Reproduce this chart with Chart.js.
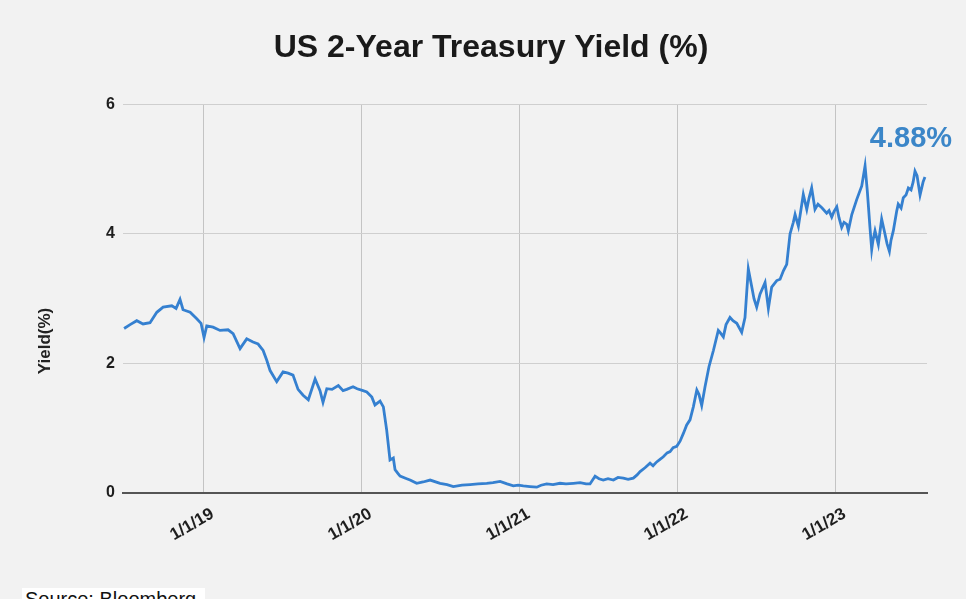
<!DOCTYPE html>
<html>
<head>
<meta charset="utf-8">
<script src="https://cdn.jsdelivr.net/npm/chart.js@4.4.1/dist/chart.umd.min.js"></script>
<style>
  html, body { margin: 0; padding: 0; background: #f2f2f2; overflow: hidden; }
  #wrap { position: relative; width: 966px; height: 599px; }
  #source {
    position: absolute; left: 22px; top: 588px; width: 180px; padding-left: 3px;
    background: #fff; color: #111; line-height: 24px;
    font: 20px "Liberation Sans", Arial, sans-serif;
  }
</style>
</head>
<body>
<div id="wrap">
  <canvas id="yieldChart" width="966" height="599"></canvas>
  <div id="source">Source: Bloomberg</div>
</div>
<script>
const chartTitle = "US 2-Year Treasury Yield (%)";
const yAxisTitle = "Yield(%)";
const lastLabel = "4.88%";
const yearTicks = [2019, 2020, 2021, 2022, 2023];
const yTicks = [0, 2, 4, 6];

// dates as fractional years
const dates = [
  2018.497, 2018.535, 2018.577, 2018.617, 2018.661, 2018.704, 2018.744, 2018.799, 2018.826, 2018.851,
  2018.870, 2018.915, 2018.957, 2018.984, 2019.003, 2019.020, 2019.060, 2019.104, 2019.155, 2019.187,
  2019.231, 2019.273, 2019.313, 2019.345, 2019.377, 2019.400, 2019.421, 2019.463, 2019.503, 2019.535,
  2019.566, 2019.598, 2019.630, 2019.663, 2019.706, 2019.737, 2019.756, 2019.780, 2019.813, 2019.853,
  2019.883, 2019.906, 2019.946, 2019.972, 2020.009, 2020.033, 2020.065, 2020.085, 2020.117, 2020.138,
  2020.159, 2020.180, 2020.201, 2020.212, 2020.231, 2020.244, 2020.286, 2020.307, 2020.349, 2020.389,
  2020.434, 2020.497, 2020.541, 2020.581, 2020.636, 2020.687, 2020.737, 2020.792, 2020.832, 2020.877,
  2020.921, 2020.961, 2020.991, 2021.024, 2021.066, 2021.109, 2021.136, 2021.172, 2021.212, 2021.256,
  2021.294, 2021.341, 2021.383, 2021.421, 2021.446, 2021.478, 2021.503, 2021.530, 2021.560, 2021.594,
  2021.623, 2021.657, 2021.687, 2021.720, 2021.744, 2021.763, 2021.794, 2021.826, 2021.845, 2021.868,
  2021.889, 2021.910, 2021.934, 2021.953, 2021.972, 2021.995, 2022.016, 2022.037, 2022.058, 2022.079,
  2022.100, 2022.122, 2022.136, 2022.153, 2022.174, 2022.199, 2022.227, 2022.258, 2022.269, 2022.290,
  2022.307, 2022.332, 2022.351, 2022.375, 2022.406, 2022.427, 2022.448, 2022.470, 2022.484, 2022.501,
  2022.522, 2022.554, 2022.575, 2022.596, 2022.628, 2022.649, 2022.670, 2022.691, 2022.712, 2022.733,
  2022.744, 2022.765, 2022.786, 2022.796, 2022.818, 2022.832, 2022.849, 2022.870, 2022.889, 2022.915,
  2022.944, 2022.959, 2022.976, 2022.991, 2023.008, 2023.022, 2023.039, 2023.054, 2023.071, 2023.081,
  2023.103, 2023.134, 2023.166, 2023.187, 2023.201, 2023.218, 2023.229, 2023.237, 2023.250, 2023.271,
  2023.292, 2023.313, 2023.326, 2023.341, 2023.351, 2023.366, 2023.387, 2023.397, 2023.415, 2023.429,
  2023.446, 2023.461, 2023.478, 2023.491, 2023.503, 2023.516, 2023.535, 2023.554, 2023.566
];
const yields = [
  2.54, 2.60, 2.66, 2.61, 2.63, 2.79, 2.87, 2.89, 2.85, 2.99,
  2.83, 2.79, 2.69, 2.62, 2.40, 2.58, 2.56, 2.51, 2.52, 2.46,
  2.23, 2.38, 2.33, 2.30, 2.20, 2.05, 1.89, 1.72, 1.87, 1.85,
  1.82, 1.60, 1.51, 1.44, 1.76, 1.58, 1.40, 1.61, 1.60, 1.66,
  1.58, 1.60, 1.64, 1.61, 1.58, 1.56, 1.48, 1.36, 1.42, 1.33,
  0.97, 0.51, 0.54, 0.36, 0.30, 0.26, 0.22, 0.20, 0.15, 0.17,
  0.20, 0.15, 0.13, 0.10, 0.12, 0.13, 0.14, 0.15, 0.16, 0.18,
  0.14, 0.11, 0.12, 0.11, 0.10, 0.09, 0.12, 0.14, 0.13, 0.15,
  0.14, 0.15, 0.16, 0.14, 0.14, 0.26, 0.22, 0.20, 0.22, 0.20,
  0.24, 0.23, 0.21, 0.23, 0.28, 0.33, 0.39, 0.46, 0.42, 0.48,
  0.52, 0.56, 0.62, 0.64, 0.70, 0.72, 0.80, 0.92, 1.05, 1.13,
  1.33, 1.59, 1.52, 1.35, 1.64, 1.95, 2.20, 2.51, 2.48, 2.41,
  2.60, 2.71, 2.66, 2.62, 2.48, 2.71, 3.46, 3.18, 3.00, 2.87,
  3.07, 3.25, 2.85, 3.18, 3.28, 3.30, 3.43, 3.53, 4.00, 4.18,
  4.30, 4.12, 4.45, 4.61, 4.38, 4.55, 4.71, 4.38, 4.46, 4.40,
  4.32, 4.36, 4.26, 4.35, 4.42, 4.25, 4.10, 4.18, 4.15, 4.05,
  4.30, 4.53, 4.74, 5.05, 4.67, 4.10, 3.76, 3.90, 4.05, 3.84,
  4.23, 4.00, 3.85, 3.73, 3.90, 4.05, 4.35, 4.46, 4.40, 4.56,
  4.60, 4.71, 4.68, 4.80, 4.97, 4.90, 4.60, 4.80, 4.88
];

const fontFamily = "'Liberation Sans', Arial, sans-serif";
Chart.defaults.font.family = fontFamily;

// axis title at the left and the last-value label over the line end
const extraText = {
  id: "extraText",
  afterDatasetsDraw(chart) {
    const { ctx, scales: { x, y } } = chart;
    const n = dates.length - 1;
    ctx.save();
    ctx.fillStyle = "#3b86c8";
    ctx.font = "bold 29px " + fontFamily;
    ctx.textAlign = "center";
    ctx.textBaseline = "middle";
    ctx.fillText(lastLabel, x.getPixelForValue(dates[n]) - 14, y.getPixelForValue(yields[n]) - 38);

    ctx.translate(45, 341);
    ctx.rotate(-Math.PI / 2);
    ctx.fillStyle = "#222";
    ctx.font = "bold 17px " + fontFamily;
    ctx.fillText(yAxisTitle, 0, 0);
    ctx.restore();
  }
};

new Chart(document.getElementById("yieldChart"), {
  type: "line",
  data: {
    datasets: [{
      data: dates.map((d, i) => ({ x: d, y: yields[i] })),
      borderColor: "#3580d0",
      borderWidth: 2.8,
      pointRadius: 0,
      tension: 0,
      fill: false,
    }],
  },
  options: {
    responsive: false,
    animation: false,
    layout: { padding: { left: 55, right: 39, top: 0, bottom: 0 } },
    plugins: {
      legend: { display: false },
      tooltip: { enabled: false },
      title: {
        display: true,
        text: chartTitle,
        color: "#1a1a1a",
        font: { size: 32, weight: "bold" },
        padding: { top: 29, bottom: 37 },
      },
    },
    scales: {
      x: {
        type: "linear",
        min: 2018.49,
        max: 2023.579,
        afterBuildTicks: axis => { axis.ticks = yearTicks.map(v => ({ value: v })); },
        afterFit: axis => { axis.height = 106; },
        grid: { color: "#c4c4c4", lineWidth: 1, drawTicks: false },
        border: { color: "#555", width: 2 },
        ticks: {
          minRotation: 30,
          maxRotation: 30,
          padding: 11,
          labelOffset: 9,
          color: "#1e1e1e",
          font: { size: 17, weight: "bold" },
          callback: v => "1/1/" + String(v).slice(2),
        },
      },
      y: {
        min: 0,
        max: 6,
        afterBuildTicks: axis => { axis.ticks = yTicks.map(v => ({ value: v })); },
        afterFit: axis => { axis.width = 68; },
        grid: {
          color: c => (c.tick && c.tick.value === 0 ? "#555" : "#cfcfcf"),
          lineWidth: c => (c.tick && c.tick.value === 0 ? 2 : 1),
          drawTicks: false,
        },
        border: { display: false },
        ticks: {
          padding: 8,
          color: "#1e1e1e",
          font: { size: 16, weight: "bold" },
        },
      },
    },
  },
  plugins: [extraText],
});
</script>
</body>
</html>
